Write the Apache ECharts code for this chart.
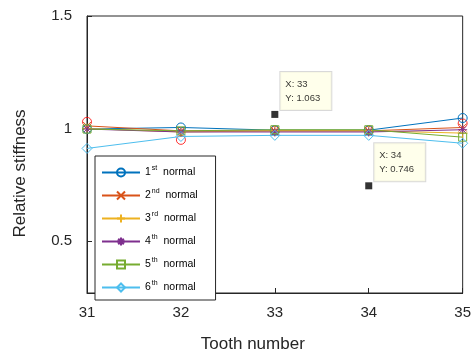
<!DOCTYPE html>
<html>
<head>
<meta charset="utf-8">
<script src="https://cdn.jsdelivr.net/npm/echarts@6/dist/echarts.min.js"></script>
<style>
  html, body { margin: 0; padding: 0; background: #fff; }
  #chart { width: 474px; height: 358px; }
</style>
</head>
<body>
<div id="chart"></div>
<script>
// tooth numbers on the x axis
const teeth = [31, 32, 33, 34, 35];
// relative stiffness for each normal mode
const normal1 = [0.998, 1.005, 0.993, 0.993, 1.047];
const normal2 = [1.012, 0.99, 0.99, 0.99, 1.005];
const normal3 = [1.0, 0.985, 0.99, 0.99, 0.98];
const normal4 = [0.998, 0.985, 0.985, 0.985, 0.995];
const normal5 = [0.998, 0.99, 0.995, 0.995, 0.962];
const normal6 = [0.912, 0.965, 0.97, 0.97, 0.935];
// red circles drawn without a line (not in legend)
const redMarks = [1.03, 0.95, 0.99, 0.99, 1.023];
// data tips
const tipX = [33, 34];
const tipY = [1.063, 0.746];
const yTicks = [0.5, 1, 1.5];

const font = 'Liberation Sans, Arial, sans-serif';
const txt = '#262626';

const pts = arr => teeth.map((t, i) => [t, arr[i]]);

// marker shapes like matlab
const symX = 'path://M0,0L10,10M10,0L0,10';
const symPlus = 'path://M5,0L5,10M0,5L10,5';
const symStar = 'path://M5,0L5,10M0,5L10,5M1.5,1.5L8.5,8.5M8.5,1.5L1.5,8.5';

function lineSeries(name, data, color, symbol, size) {
  return {
    name: name,
    type: 'line',
    data: pts(data),
    symbol: symbol,
    symbolSize: size,
    lineStyle: { color: color, width: 1 },
    itemStyle: { color: 'rgba(0,0,0,0)', borderColor: color, borderWidth: 1 },
    emphasis: { disabled: true }
  };
}

const chart = echarts.init(document.getElementById('chart'));

const option = {
  backgroundColor: '#ffffff',
  animation: false,
  textStyle: { fontFamily: font },
  grid: {
    left: 87, right: 8, top: 16, bottom: 65,
    show: true, borderColor: txt, borderWidth: 1
  },
  legend: {
    left: 95, top: 156,
    orient: 'vertical',
    itemWidth: 38, itemHeight: 10, itemGap: 10,
    padding: [9, 18, 7, 6],
    backgroundColor: '#fff',
    borderColor: txt, borderWidth: 1,
    borderRadius: 0,
    data: ['1st normal', '2nd normal', '3rd normal', '4th normal', '5th normal', '6th normal'],
    formatter: function (name) {
      const num = name.charAt(0);
      const sup = name.substr(1, 2);
      return '{n|' + num + '}{s|' + sup + '}{n|  normal}';
    },
    textStyle: {
      color: '#000',
      rich: {
        n: { fontSize: 10.5, color: '#000', fontFamily: font },
        s: { fontSize: 7, color: '#000', fontFamily: font, padding: [0, 0, 8, 1] }
      }
    }
  },
  xAxis: {
    type: 'value',
    min: 31, max: 35, interval: 1,
    name: 'Tooth number',
    nameLocation: 'middle',
    nameGap: 43,
    nameTextStyle: { fontSize: 17, color: txt, padding: [0, 44, 0, 0] },
    axisLine: { lineStyle: { color: txt } },
    axisTick: { inside: true, length: 5, lineStyle: { color: txt } },
    axisLabel: { fontSize: 15, color: txt, margin: 12 },
    splitLine: { show: false }
  },
  yAxis: {
    type: 'value',
    min: 0.27, max: 1.5,
    name: 'Relative stiffness',
    nameLocation: 'middle',
    nameGap: 58,
    nameTextStyle: { fontSize: 17, color: txt, padding: [0, 38, 0, 0] },
    axisLine: { show: true, lineStyle: { color: txt } },
    axisTick: { inside: true, length: 5, customValues: yTicks, lineStyle: { color: txt } },
    axisLabel: { fontSize: 15, color: txt, margin: 15, customValues: yTicks },
    splitLine: { show: false }
  },
  series: [
    {
      name: 'red',
      type: 'scatter',
      data: pts(redMarks),
      symbol: 'circle',
      symbolSize: 9,
      itemStyle: { color: 'rgba(0,0,0,0)', borderColor: '#ff0000', borderWidth: 1 },
      emphasis: { disabled: true }
    },
    lineSeries('1st normal', normal1, '#0072BD', 'circle', 9),
    lineSeries('2nd normal', normal2, '#D95319', symX, 8),
    lineSeries('3rd normal', normal3, '#EDB120', symPlus, 10),
    lineSeries('4th normal', normal4, '#7E2F8E', symStar, 9),
    lineSeries('5th normal', normal5, '#77AC30', 'rect', 8),
    lineSeries('6th normal', normal6, '#4DBEEE', 'diamond', 10),
    {
      name: 'tips',
      type: 'scatter',
      data: tipX.map((x, i) => [x, tipY[i]]),
      symbol: 'rect',
      symbolSize: 7,
      itemStyle: { color: '#000' },
      emphasis: { disabled: true },
      label: {
        show: true,
        position: [9, -39],
        formatter: p => 'X: ' + p.value[0] + '\nY: ' + p.value[1].toFixed(3),
        fontSize: 9.5,
        lineHeight: 14,
        color: '#000',
        backgroundColor: '#ffffe6',
        borderColor: '#cfcfcf',
        borderWidth: 1,
        padding: [5, 6, 5, 5],
        width: 40
      }
    }
  ]
};

chart.setOption(option);
</script>
</body>
</html>
